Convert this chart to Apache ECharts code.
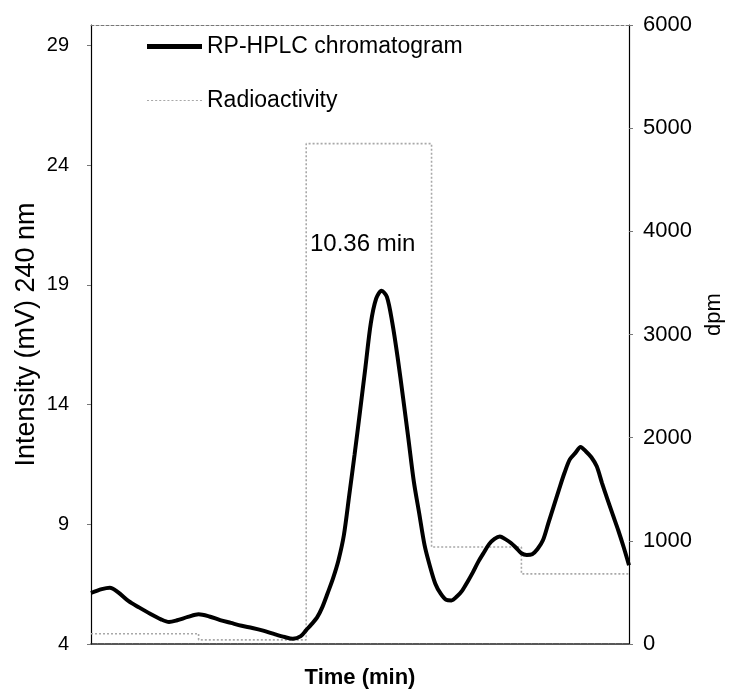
<!DOCTYPE html>
<html>
<head>
<meta charset="utf-8">
<script src="https://cdn.jsdelivr.net/npm/echarts@6/dist/echarts.min.js"></script>
<style>html,body{margin:0;padding:0;background:#fff}#c{width:733px;height:694px}</style>
</head>
<body>
<div id="c"></div>
<script>
// Time (min)
const hplcTime = [5.00,5.20,5.35,5.50,5.70,5.90,6.10,6.30,6.45,6.60,6.80,7.00,7.20,7.40,7.60,7.80,8.00,8.20,8.40,8.60,8.75,8.90,9.00,9.10,9.20,9.30,9.40,9.50,9.60,9.70,9.80,9.90,10.00,10.10,10.20,10.30,10.40,10.50,10.60,10.70,10.80,10.90,11.00,11.10,11.20,11.30,11.40,11.50,11.60,11.70,11.80,11.90,12.00,12.10,12.20,12.30,12.40,12.50,12.60,12.70,12.80,12.90,13.00,13.10,13.20,13.30,13.40,13.50,13.60,13.70,13.80,13.90,14.00,14.10,14.20,14.30,14.40,14.50,14.60,14.70,14.80,14.90,15.00];
// Intensity (mV) 240 nm
const hplcValue = [6.13,6.29,6.35,6.17,5.79,5.52,5.26,5.03,4.92,4.99,5.13,5.24,5.15,5.00,4.88,4.76,4.67,4.56,4.42,4.29,4.22,4.33,4.58,4.83,5.10,5.54,6.13,6.75,7.50,8.54,10.21,11.92,13.71,15.54,17.38,18.42,18.75,18.50,17.42,15.96,14.29,12.56,10.79,9.46,8.13,7.25,6.52,6.10,5.85,5.82,5.98,6.23,6.60,7.00,7.44,7.81,8.17,8.39,8.49,8.38,8.23,8.02,7.79,7.72,7.75,7.97,8.33,9.04,9.75,10.46,11.14,11.71,11.97,12.23,12.04,11.80,11.42,10.71,10.04,9.39,8.75,8.05,7.29];
// Radioactivity fractions (start time, dpm)
const radioTime = [5, 7, 9, 11.33, 13, 15];
const radioDpm = [100, 40, 4850, 940, 680, 680];
const leftTicks = [4, 9, 14, 19, 24, 29];
const rightTicks = [0, 1000, 2000, 3000, 4000, 5000, 6000];
const annotation = '10.36 min';

const hplcData = hplcTime.map((t, i) => [t, hplcValue[i]]);
const radioData = radioTime.map((t, i) => [t, radioDpm[i]]);
const FONT = 'Liberation Sans';

let dash = '';
for (let i = 0; i < 14; i++) dash += 'M' + (i * 4) + ' 0h2v1h-2z ';
const dashIcon = 'path://' + dash.trim();

const chart = echarts.init(document.getElementById('c'));
chart.setOption({
  animation: false,
  grid: {left: 91, right: 102, top: 25, bottom: 48},
  legend: [
    {data: ['RP-HPLC chromatogram'], left: 147, top: 35, padding: 0, icon: 'rect', itemWidth: 55, itemHeight: 5,
     textStyle: {fontFamily: FONT, fontSize: 23, color: '#000'}},
    {data: ['Radioactivity'], left: 147, top: 89, padding: 0, icon: dashIcon, itemWidth: 55, itemHeight: 2,
     textStyle: {fontFamily: FONT, fontSize: 23, color: '#000'}}
  ],
  xAxis: [
    {type: 'value', min: 5, max: 15, name: 'Time (min)', nameLocation: 'middle', nameGap: 23,
     nameTextStyle: {fontFamily: FONT, fontSize: 22, fontWeight: 'bold', color: '#000'},
     axisLine: {lineStyle: {color: '#222', width: 1.5, type: [6, 1]}},
     axisTick: {show: false}, axisLabel: {show: false}, splitLine: {show: false}},
    {type: 'value', min: 5, max: 15, position: 'top',
     axisLine: {lineStyle: {color: '#777', width: 1, type: [3, 2]}},
     axisTick: {show: false}, axisLabel: {show: false}, splitLine: {show: false}}
  ],
  yAxis: [
    {type: 'value', min: leftTicks[0], max: 29.85, interval: 5, position: 'left',
     name: 'Intensity (mV) 240 nm', nameLocation: 'middle', nameGap: 51, nameRotate: 90,
     nameMoveOverlap: false,
     nameTextStyle: {fontFamily: FONT, fontSize: 27, color: '#000'},
     axisLine: {show: true, lineStyle: {color: '#000', width: 1.2}},
     axisTick: {show: true, length: 4, lineStyle: {color: '#777'}},
     axisLabel: {showMaxLabel: false, margin: 22, fontFamily: FONT, fontSize: 20, color: '#000',
       formatter: v => leftTicks.includes(Math.round(v)) ? String(Math.round(v)) : ''},
     splitLine: {show: false}},
    {type: 'value', min: rightTicks[0], max: rightTicks[rightTicks.length - 1], interval: 1000, position: 'right',
     name: 'dpm', nameLocation: 'middle', nameGap: 74, nameRotate: 90,
     nameTextStyle: {fontFamily: FONT, fontSize: 22, color: '#000', padding: [0, 0, 0, 40]},
     axisLine: {show: true, lineStyle: {color: '#000', width: 1.2}},
     axisTick: {show: true, length: 4, lineStyle: {color: '#777'}},
     axisLabel: {margin: 14, fontFamily: FONT, fontSize: 22, color: '#000', formatter: v => String(v)},
     splitLine: {show: false}}
  ],
  graphic: [
    {type: 'text', left: 310, top: 232,
     style: {text: annotation, fontFamily: FONT, fontSize: 24, fill: '#000'}}
  ],
  series: [
    {name: 'Radioactivity', type: 'line', xAxisIndex: 0, yAxisIndex: 1, data: radioData,
     step: 'end', symbol: 'none', z: 1,
     lineStyle: {color: '#a8a8a8', width: 1.6, type: [2, 2]},
     itemStyle: {color: '#a8a8a8'}},
    {name: 'RP-HPLC chromatogram', type: 'line', xAxisIndex: 0, yAxisIndex: 0, data: hplcData,
     smooth: 0.3, symbol: 'none', z: 3,
     lineStyle: {color: '#000', width: 4},
     itemStyle: {color: '#000'}}
  ]
});
</script>
</body>
</html>
